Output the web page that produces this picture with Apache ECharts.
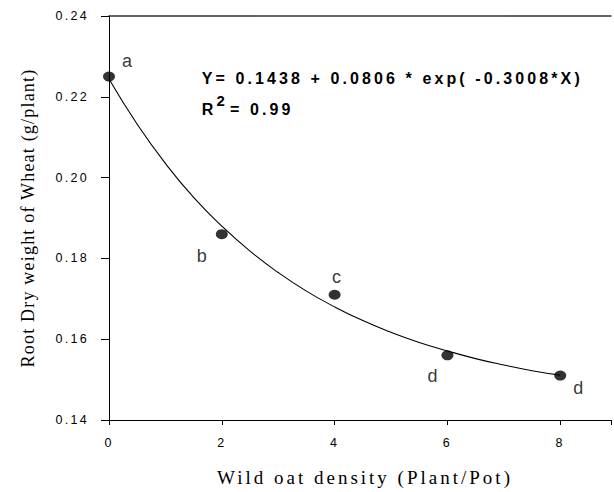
<!DOCTYPE html>
<html>
<head>
<meta charset="utf-8">
<script src="https://cdn.jsdelivr.net/npm/echarts@6/dist/echarts.min.js"></script>
<style>
html,body{margin:0;padding:0;background:#fff;}
#chart{width:614px;height:492px;}
</style>
</head>
<body>
<div id="chart"></div>
<script>
// Observed means (wheat root dry weight) at each wild-oat density
var densities = [0, 2, 4, 6, 8];
var rootWeight = [0.225, 0.186, 0.171, 0.156, 0.151];
var pointLetters = ['a', 'b', 'c', 'd', 'd'];

// Fitted curve
var curveX = [0, 0.5, 1, 1.5, 2, 2.5, 3, 3.5, 4, 4.5, 5, 5.5, 6, 6.5, 7, 7.5, 8];
var curveY = [0.2244, 0.2132, 0.2035, 0.1951, 0.1880, 0.1818, 0.1765, 0.1719, 0.1680,
              0.1646, 0.1617, 0.1592, 0.1571, 0.1552, 0.1536, 0.1522, 0.1511];

var xTicks = [0, 2, 4, 6, 8];
var yTicks = [0.14, 0.16, 0.18, 0.20, 0.22, 0.24];

var equationText = 'Y= 0.1438 + 0.0806 * exp( -0.3008*X)';
var r2Label = 'R';
var r2Sup = '2';
var r2Value = '= 0.99';
var xTitle = 'Wild oat density (Plant/Pot)';
var yTitle = 'Root Dry weight of Wheat (g/plant)';

// label offsets (styling)
var letterOffsets = [[18, -16], [-20, 22], [2, -18], [-15, 21], [18, 12]];

var chart = echarts.init(document.getElementById('chart'), null, {renderer: 'svg'});

var scatterData = densities.map(function (d, i) {
  return {
    value: [d, rootWeight[i]],
    label: {show: true, formatter: pointLetters[i], position: 'inside', offset: letterOffsets[i]}
  };
});

var option = {
  animation: false,
  backgroundColor: '#fff',
  grid: {left: 109, right: 0, top: 16, bottom: 72, containLabel: false},
  xAxis: [{
    type: 'value', position: 'bottom', min: 0, max: 8.9, interval: 2,
    axisLine: {show: true, onZero: false, lineStyle: {color: '#000', width: 1}},
    axisTick: {show: true, length: 5, lineStyle: {color: '#000'}},
    axisLabel: {
      margin: 16, color: '#000', fontFamily: 'Liberation Sans', fontSize: 12.5,
      formatter: function (v) { return xTicks.indexOf(v) >= 0 ? String(v) : ''; }
    },
    splitLine: {show: false},
    name: xTitle, nameLocation: 'middle', nameGap: 48,
    nameTextStyle: {fontFamily: 'Liberation Serif', fontSize: 19, color: '#000', padding: [0, 0, 0, 10]}
  }, {
    type: 'value', position: 'top', min: 0, max: 8.9,
    axisLine: {show: true, onZero: false, lineStyle: {color: '#333', width: 1.5}},
    axisTick: {show: false}, axisLabel: {show: false}, splitLine: {show: false}
  }],
  yAxis: {
    type: 'value', min: 0.14, max: 0.24, interval: 0.02,
    axisLine: {show: true, onZero: false, lineStyle: {color: '#000', width: 1}},
    axisTick: {show: true, length: 8, lineStyle: {color: '#000'}},
    axisLabel: {
      margin: 20, color: '#000', fontFamily: 'Liberation Sans', fontSize: 12.5,
      formatter: function (v) { return v.toFixed(2); }
    },
    splitLine: {show: false},
    name: yTitle, nameLocation: 'middle', nameGap: 72,
    nameTextStyle: {fontFamily: 'Liberation Serif', fontSize: 18, color: '#000'}
  },
  series: [{
    type: 'line',
    data: curveX.map(function (x, i) { return [x, curveY[i]]; }),
    smooth: true, showSymbol: false, symbol: 'none',
    lineStyle: {color: '#000', width: 1.1},
    z: 2, silent: true
  }, {
    type: 'scatter',
    data: scatterData,
    symbol: 'circle', symbolSize: [12, 10],
    itemStyle: {color: '#000'},
    label: {color: '#000', fontFamily: 'Liberation Sans', fontSize: 18},
    z: 3
  }],
  graphic: [
    {type: 'text', x: 201.7, y: 78, style: {text: equationText, font: 'bold 16px "Liberation Sans"', fill: '#000', verticalAlign: 'middle'}},
    {type: 'text', x: 201.7, y: 109, style: {text: r2Label, font: 'bold 16px "Liberation Sans"', fill: '#000', verticalAlign: 'middle'}},
    {type: 'text', x: 216.5, y: 100, style: {text: r2Sup, font: 'bold 15px "Liberation Sans"', fill: '#000', verticalAlign: 'middle'}},
    {type: 'text', x: 230, y: 109, style: {text: r2Value, font: 'bold 16px "Liberation Sans"', fill: '#000', verticalAlign: 'middle'}}
  ]
};

chart.setOption(option);

function spacing() {
  var texts = document.querySelectorAll('#chart text');
  texts.forEach(function (t) {
    var s = t.textContent;
    var ls = null;
    if (s === xTitle) ls = '3px';
    else if (s === yTitle) ls = '1.2px';
    else if (s === equationText || s === r2Value) ls = '3.1px';
    else if (/^0\.\d\d$/.test(s) || /^\d$/.test(s)) ls = '2.3px';
    if (ls) t.style.letterSpacing = ls;
  });
}
chart.getZr().flush && chart.getZr().flush();
spacing();
chart.on('finished', spacing);
</script>
</body>
</html>
